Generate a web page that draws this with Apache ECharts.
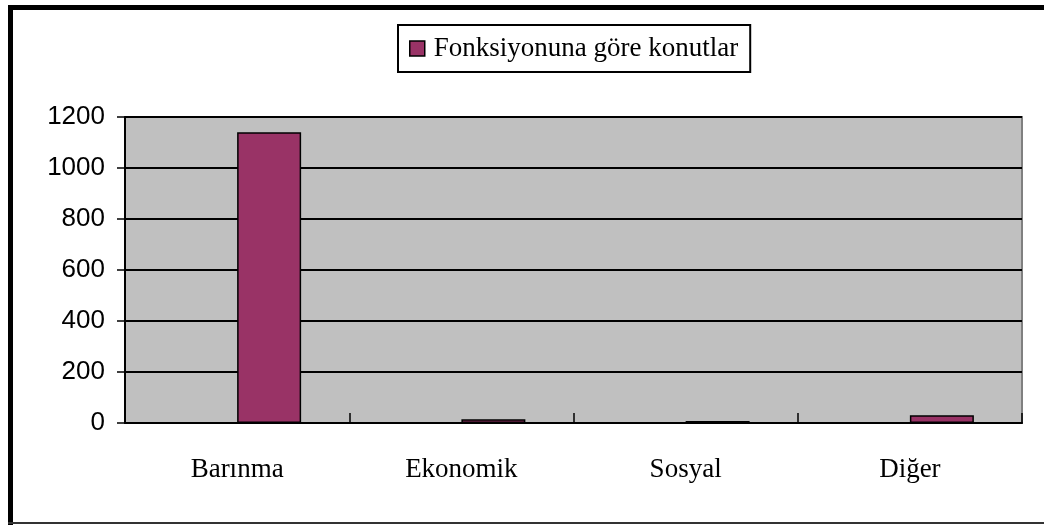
<!DOCTYPE html>
<html>
<head>
<meta charset="utf-8">
<script src="https://cdn.jsdelivr.net/npm/echarts@6/dist/echarts.min.js"></script>
<style>
  html, body { margin: 0; padding: 0; background: #fff; }
  #chart { width: 1044px; height: 525px; }
</style>
</head>
<body>
<div id="chart"></div>
<script>
// 数据
const categories = ['Barınma', 'Ekonomik', 'Sosyal', 'Diğer'];
const seriesName = 'Fonksiyonuna göre konutlar';
const values = [1140, 15, 8, 30];
const yTicks = [0, 200, 400, 600, 800, 1000, 1200];

// 空的占位系列，让柱子从类目中心开始（和原图一样）
const emptySeries = categories.map(() => null);

const chart = echarts.init(document.getElementById('chart'));

const option = {
    backgroundColor: '#fff',
    animation: false,
    grid: {
        left: 125, right: 22, top: 117, bottom: 102,
        show: true,
        backgroundColor: '#c0c0c0',
        borderColor: '#808080',
        borderWidth: 2
    },
    legend: {
        data: [seriesName],
        left: 398,
        top: 25,
        padding: [10, 12, 10, 11],
        borderColor: '#000',
        borderWidth: 2,
        backgroundColor: '#fff',
        itemWidth: 15,
        itemHeight: 15,
        icon: 'rect',
        itemStyle: { borderColor: '#000', borderWidth: 1.5 },
        textStyle: {
            fontFamily: '"Liberation Serif", "Times New Roman", serif',
            fontSize: 27,
            color: '#000',
            padding: [0, 0, 0, 4]
        }
    },
    xAxis: {
        type: 'category',
        data: categories,
        boundaryGap: true,
        axisLine: { lineStyle: { color: '#000', width: 2 } },
        axisTick: { show: true, inside: true, length: 10, lineStyle: { color: '#000', width: 1.5 } },
        axisLabel: {
            margin: 33,
            fontFamily: '"Liberation Serif", "Times New Roman", serif',
            fontSize: 27,
            color: '#000'
        },
        splitLine: { show: false }
    },
    yAxis: {
        type: 'value',
        min: yTicks[0],
        max: yTicks[yTicks.length - 1],
        interval: 200,
        axisLine: { show: true, lineStyle: { color: '#000', width: 2 } },
        axisTick: { show: true, length: 8, lineStyle: { color: '#000', width: 1.5 } },
        axisLabel: {
            margin: 20,
            fontFamily: '"Liberation Sans", Arial, sans-serif',
            fontSize: 26,
            color: '#000',
            formatter: v => String(v)
        },
        splitLine: { show: true, lineStyle: { color: '#000', width: 2 } }
    },
    series: [
        {
            name: '',
            type: 'bar',
            data: emptySeries,
            barWidth: 64,
            barGap: '0%'
        },
        {
            name: seriesName,
            type: 'bar',
            data: values,
            barWidth: 64,
            barGap: '0%',
            itemStyle: { color: '#993366', borderColor: '#000', borderWidth: 1.5 }
        }
    ],
    // 外框（左、上粗黑线，底部细线）
    graphic: [
        { type: 'rect', shape: { x: 8, y: 5, width: 1036, height: 5 }, style: { fill: '#000' } },
        { type: 'rect', shape: { x: 8, y: 5, width: 5, height: 520 }, style: { fill: '#000' } },
        { type: 'rect', shape: { x: 8, y: 522, width: 1036, height: 2 }, style: { fill: '#333' } }
    ]
};

chart.setOption(option);
</script>
</body>
</html>
